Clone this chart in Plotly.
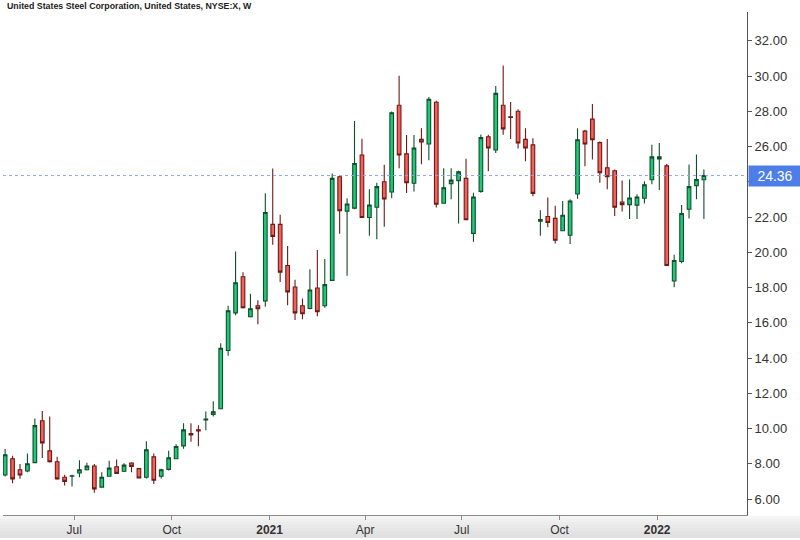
import pandas as pd
import plotly.graph_objects as go

title_text = "United States Steel Corporation, United States, NYSE:X, W"
start_date = "2020-04-27"

opens = [7.37, 8.29, 7.67, 7.60, 8.07, 10.45, 8.74, 8.12, 7.24, 7.30,
         7.48, 7.67, 7.88, 6.68, 7.30, 7.84, 7.58, 8.05, 7.73, 7.24,
         8.40, 7.30, 7.69, 8.29, 9.02, 9.72, 9.93, 10.49, 10.81, 11.13,
         14.43, 16.57, 18.62, 16.35, 16.97, 17.25, 21.59, 21.59, 19.26, 18.04,
         16.97, 16.82, 17.98, 16.97, 18.41, 24.29, 22.34, 22.51, 25.53, 21.98,
         22.56, 24.01, 23.43, 28.35, 25.59, 23.92, 26.41, 26.15, 28.52, 22.79,
         23.90, 24.07, 24.20, 21.08, 23.46, 26.56, 25.81, 28.35, 27.69, 28.01,
         26.41, 26.10, 21.77, 22.04, 21.93, 21.23, 20.97, 23.31, 26.88, 27.56,
         26.23, 24.80, 24.63, 22.86, 22.71, 22.68, 23.07, 24.12, 25.30, 24.91,
         18.38, 19.48, 22.45, 23.79, 24.12]
highs = [8.84, 8.46, 7.99, 8.59, 10.58, 11.00, 10.69, 8.40, 7.39, 7.39,
         8.20, 8.07, 7.99, 7.52, 8.18, 8.25, 8.03, 8.10, 7.75, 9.29,
         8.59, 7.73, 8.74, 9.12, 10.30, 10.30, 10.19, 10.97, 11.56, 14.85,
         16.97, 20.05, 18.88, 17.66, 17.29, 23.35, 24.76, 22.13, 20.37, 18.45,
         17.38, 19.05, 20.14, 19.62, 24.48, 24.33, 23.07, 27.46, 26.45, 23.58,
         23.95, 24.97, 27.99, 30.02, 26.66, 26.66, 27.05, 28.82, 28.60, 24.78,
         24.78, 24.63, 25.32, 23.39, 26.69, 26.67, 29.44, 30.60, 28.54, 28.12,
         27.05, 26.47, 22.39, 23.11, 22.64, 22.92, 23.01, 27.05, 26.96, 28.42,
         26.29, 26.43, 24.70, 24.08, 24.14, 23.30, 24.03, 26.11, 26.21, 25.02,
         19.86, 22.69, 24.99, 25.55, 24.70]
lows = [7.28, 6.90, 7.16, 7.52, 8.05, 8.33, 8.08, 7.10, 6.77, 6.71,
        7.24, 7.62, 6.36, 6.64, 7.28, 7.44, 7.54, 7.52, 7.18, 7.17,
        6.86, 7.17, 7.62, 8.27, 8.86, 9.25, 9.00, 9.91, 10.69, 11.10,
        14.13, 16.44, 16.82, 16.31, 15.92, 16.91, 20.44, 18.32, 17.00, 16.16,
        16.21, 16.78, 16.38, 16.86, 18.41, 21.06, 18.68, 22.45, 21.95, 20.95,
        20.74, 21.45, 23.07, 24.78, 23.37, 23.46, 25.00, 25.23, 22.55, 22.79,
        23.01, 21.64, 21.85, 20.61, 23.39, 24.61, 25.64, 26.68, 26.43, 25.90,
        25.17, 23.18, 20.95, 21.42, 20.50, 21.23, 20.48, 23.04, 24.89, 25.27,
        23.95, 23.58, 22.07, 22.32, 21.90, 21.90, 22.77, 23.86, 23.54, 19.26,
        18.02, 19.39, 21.93, 23.01, 21.90]
closes = [8.52, 7.15, 7.37, 8.01, 10.17, 9.19, 8.12, 7.15, 7.01, 7.33,
          7.67, 7.88, 6.58, 7.24, 7.76, 7.46, 7.93, 7.86, 7.20, 8.80,
          7.07, 7.67, 8.35, 8.99, 9.93, 9.64, 9.87, 10.54, 10.96, 14.56,
          16.69, 18.28, 16.86, 16.80, 16.80, 22.26, 20.91, 18.88, 17.76, 16.57,
          16.52, 17.87, 16.63, 18.17, 24.20, 22.36, 22.75, 25.04, 21.98, 22.69,
          23.73, 23.03, 27.92, 25.53, 23.95, 25.92, 26.26, 28.69, 22.73, 23.67,
          24.10, 24.57, 21.85, 23.14, 26.51, 25.92, 29.02, 27.01, 27.65, 26.21,
          25.92, 23.35, 21.87, 21.70, 20.69, 22.11, 22.92, 26.39, 26.15, 26.39,
          24.52, 24.29, 22.56, 22.71, 23.09, 23.14, 23.84, 25.42, 25.42, 19.26,
          19.54, 22.21, 23.73, 24.14, 24.36]

last_price = 24.36
x_tick_dates = ["2020-07-01", "2020-10-01", "2021-01-01", "2021-04-01",
                "2021-07-01", "2021-10-01", "2022-01-01"]
x_tick_labels = ["Jul", "Oct", "<b>2021</b>", "Apr", "Jul", "Oct", "<b>2022</b>"]
y_tick_vals = [6, 8, 10, 12, 14, 16, 18, 20, 22, 24, 26, 28, 30, 32]
y_tick_labels = [f"{v:.2f}" for v in y_tick_vals]

dates = pd.date_range(start_date, periods=len(opens), freq="7D")

fig = go.Figure()
fig.add_trace(go.Candlestick(
    x=dates, open=opens, high=highs, low=lows, close=closes,
    increasing=dict(fillcolor="#1fc878", line=dict(color="#0f4f2a", width=1.1)),
    decreasing=dict(fillcolor="#f4605a", line=dict(color="#6e1a16", width=1.1)),
    whiskerwidth=0, showlegend=False,
))

font_family = "Liberation Sans, Arial, sans-serif"

shapes = []
# bottom gradient strip
grays = ["#f5f5f5", "#f0f0f0", "#ececec", "#e9e9e9", "#e6e6e6", "#e3e3e3", "#e1e1e1"]
ph = 506.0
for i, g in enumerate(grays):
    shapes.append(dict(type="rect", xref="paper", yref="paper",
                       x0=-0.01, x1=1.08, y0=-(1 + 3 * i) / ph, y1=-(1 + 3 * (i + 1)) / ph - 0.002,
                       fillcolor=g, line=dict(width=0), layer="below"))
shapes.append(dict(type="line", xref="paper", yref="y", x0=0, x1=1,
                   y0=last_price, y1=last_price,
                   line=dict(color="#8fa4e6", width=1, dash="dot")))

fig.update_layout(
    width=800, height=540,
    margin=dict(l=3, r=53, t=12, b=22),
    paper_bgcolor="white", plot_bgcolor="white",
    font=dict(family=font_family, color="#333333", size=13),
    boxgap=0.3,
    shapes=shapes,
    xaxis=dict(
        type="date", range=["2020-04-25", "2022-03-26 14:00"],
        rangeslider=dict(visible=False),
        tickvals=x_tick_dates, ticktext=x_tick_labels,
        showgrid=False, zeroline=False,
        showline=True, linecolor="#8a8a8a", linewidth=1,
        ticks="outside", ticklen=4, tickcolor="#8a8a8a",
        tickfont=dict(size=12, color="#333333"),
    ),
    yaxis=dict(
        side="right", range=[5.10, 33.64],
        tickvals=y_tick_vals, ticktext=y_tick_labels,
        showgrid=False, zeroline=False,
        showline=True, linecolor="#555555", linewidth=1,
        ticks="outside", ticklen=4, tickcolor="#555555",
        tickfont=dict(size=13, color="#333333"),
    ),
    annotations=[
        dict(text="<b>" + title_text + "</b>", xref="paper", yref="paper",
             x=0, y=1, xanchor="left", yanchor="bottom", xshift=2, yshift=-1,
             showarrow=False, font=dict(size=8.8, color="#222222", family=font_family)),
        dict(text=f"{last_price:.2f}", xref="paper", yref="y",
             x=1, y=last_price, xanchor="left", yanchor="middle", xshift=1,
             showarrow=False, bgcolor="#4d7ee8", width=50, height=18, align="center",
             font=dict(size=14, color="white", family=font_family)),
    ],
)

fig.write_html("out.html")
